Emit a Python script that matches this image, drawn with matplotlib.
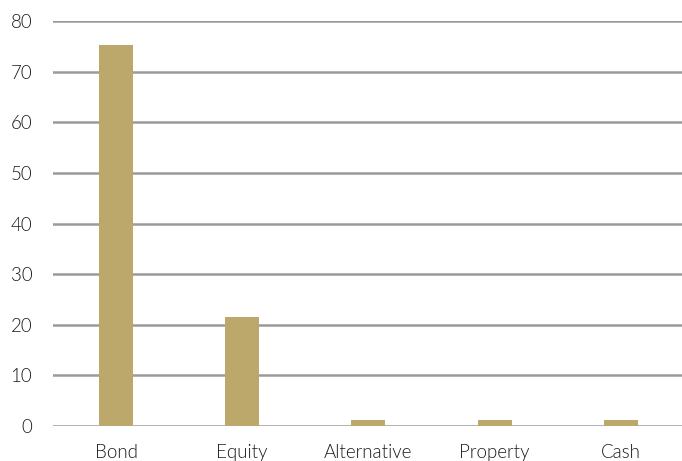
import matplotlib
matplotlib.use("Agg")
import matplotlib.pyplot as plt

categories = ["Bond", "Equity", "Alternative", "Property", "Cash"]
values = [75.2, 21.5, 1.1, 1.1, 1.1]
yticks = [0, 10, 20, 30, 40, 50, 60, 70, 80]

BAR, GRID, TEXT = "#BBA86A", "#9A9A9A", "#1A1A1A"

plt.rcParams["font.family"] = ["Lato", "DejaVu Sans"]

fig = plt.figure(figsize=(6.82, 4.61), dpi=100)
ax = fig.add_axes([0.0777, 0.0759, 0.925, 0.8785])

x = range(len(categories))
ax.bar(x, values, width=0.27, color=BAR, zorder=3)

ax.set_xlim(-0.5, len(categories) - 0.5)
ax.set_ylim(0, 80)
ax.set_yticks(yticks)
ax.set_xticks(list(x))
ax.set_xticklabels(categories)
ax.yaxis.grid(True, color=GRID, linewidth=1.8, zorder=0)
ax.set_axisbelow(True)
for s in ax.spines.values():
    s.set_visible(False)
ax.tick_params(axis="both", length=0, labelsize=13.5, colors=TEXT)
ax.tick_params(axis="x", pad=13)
ax.tick_params(axis="y", pad=15)
for lab in ax.get_xticklabels() + ax.get_yticklabels():
    lab.set_fontweight(300)

fig.savefig("out.png", dpi=100)
